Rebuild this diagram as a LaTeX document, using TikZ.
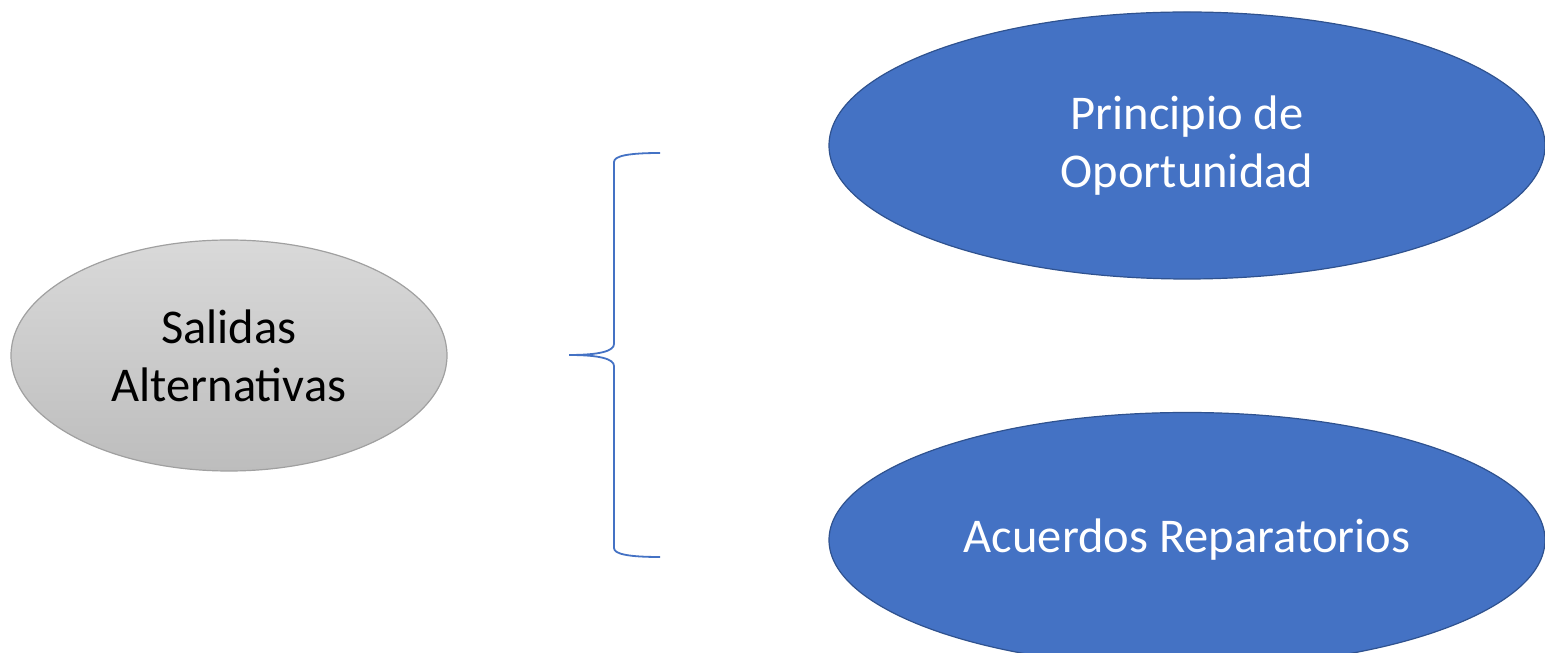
\documentclass[tikz,border=0pt]{standalone}
\usepackage{fontspec}
\setmainfont{Carlito}
\usetikzlibrary{shapes.geometric}
\definecolor{ovalblue}{HTML}{4472C4}
\definecolor{ovalblueline}{HTML}{2F528F}
\definecolor{ovalgraytop}{HTML}{D9D9D9}
\definecolor{ovalgraybot}{HTML}{BDBDBD}
\definecolor{ovalgrayline}{HTML}{A0A0A0}
\begin{document}
\begin{tikzpicture}[x=1pt, y=1pt,
		oval/.style = {ellipse, inner sep=0pt, align=center, font=\fontsize{48.5}{58}\selectfont},
		grayoval/.style = {oval, draw=ovalgrayline, line width=1.2pt, top color=ovalgraytop, bottom color=ovalgraybot, text=black},
		blueoval/.style = {oval, draw=ovalblueline, line width=1.2pt, fill=ovalblue, text=white},
		bracel/.style = {draw=ovalblue, line width=1.8pt}]
		\useasboundingbox (0,0) rectangle (1545,653);
		\clip (0,0) rectangle (1545,653);
		\node[grayoval, minimum width=436pt, minimum height=231pt] (salidas) at (229,297.5) {Salidas\\Alternativas};
		\node[blueoval, minimum width=716pt, minimum height=267pt] (principio) at (1187,507.5) {Principio de\\Oportunidad};
		\node[blueoval, minimum width=716pt, minimum height=255pt] (acuerdos) at (1187,113) {Acuerdos Reparatorios};
		\coordinate (btop) at (660,500);
		\coordinate (btip) at (569,298);
		\coordinate (bbot) at (660,96);
		\draw[bracel] (btop) .. controls (628,500) and (614,497) .. (614,491)
			-- (614,309) .. controls (614,302) and (600,298) .. (btip)
			.. controls (600,298) and (614,294) .. (614,287)
			-- (614,105) .. controls (614,99) and (628,96) .. (bbot);

	\end{tikzpicture}
\end{document}
